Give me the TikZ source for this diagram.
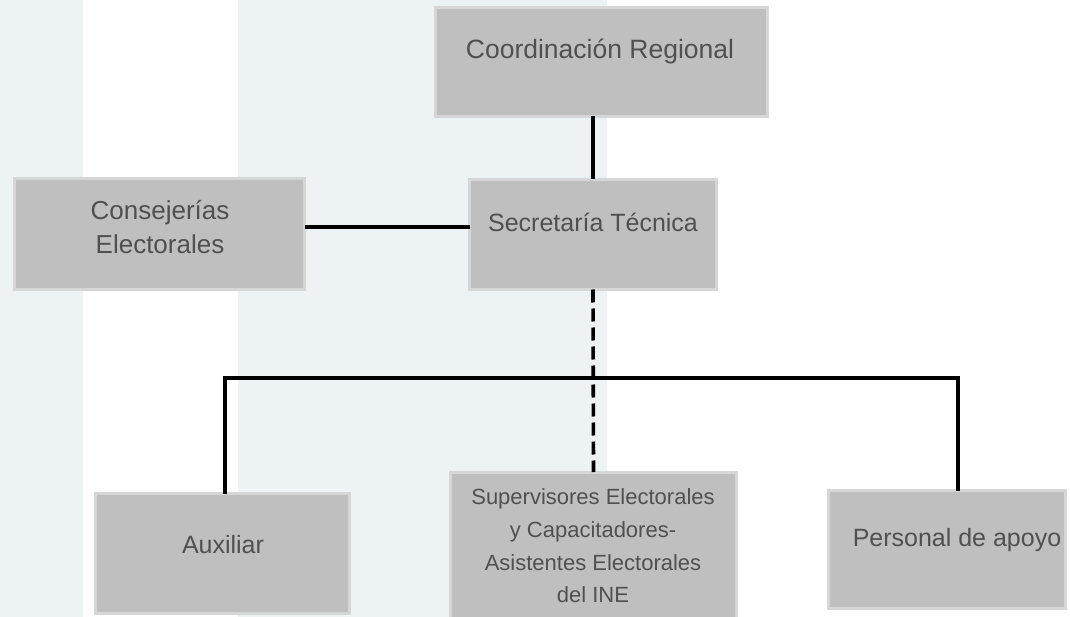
\documentclass[tikz,border=0pt]{standalone}
\usepackage{fontspec}
\setmainfont{Liberation Sans}
\definecolor{stripe}{RGB}{237,242,245}
\definecolor{boxfill}{RGB}{191,191,191}
\definecolor{boxedge}{RGB}{214,214,214}
\definecolor{txt}{RGB}{80,80,80}
\tikzset{
  orgbox/.style={draw=boxedge, line width=3pt, fill=boxfill, inner sep=0pt, outer sep=0pt},
  lbl/.style={text=txt, font=\fontsize{25}{34}\selectfont, inner sep=0pt, align=center},
  biglbl/.style={text=txt, font=\fontsize{26.5}{34}\selectfont, inner sep=0pt, align=center},
  conslbl/.style={text=txt, font=\fontsize{26}{34}\selectfont, inner sep=0pt, align=center},
  smalllbl/.style={text=txt, font=\fontsize{22}{32.7}\selectfont, inner sep=0pt, align=center},
  conn/.style={line width=3.6pt, black},
  dashconn/.style={line width=3.6pt, black, dash pattern=on 13pt off 6pt}
}
\begin{document}
\begin{tikzpicture}[x=1pt,y=-1pt]
\clip (0,0) rectangle (1070,617);
\fill[white] (0,0) rectangle (1070,617);
\fill[stripe] (0,0) rectangle (83,617);
\fill[stripe] (238,0) rectangle (607,617);

% boxes
\node[orgbox, minimum width=332pt, minimum height=109pt] (coord) at (601.5,62) {};
\node[orgbox, minimum width=290pt, minimum height=111pt] (cons) at (159.5,234) {};
\node[orgbox, minimum width=247pt, minimum height=110pt] (sec) at (593,234.5) {};
\node[orgbox, minimum width=286pt, minimum height=170pt] (sup) at (593.5,557) {};
\node[orgbox, minimum width=254pt, minimum height=120pt] (aux) at (222.5,553.5) {};
\node[orgbox, minimum width=237pt, minimum height=118pt] (pers) at (947,549.5) {};

% labels
\node[biglbl, anchor=base] (coordL) at (600,59) {Coordinación Regional};
\node[lbl, anchor=base] (secL) at (593,232) {Secretaría Técnica};
\node[conslbl, anchor=center] (consL) at (160,227) {Consejerías\\Electorales};
\node[lbl, anchor=base] (auxL) at (223,553) {Auxiliar};
\node[lbl, anchor=base] (persL) at (957,546) {Personal de apoyo};
\node[smalllbl, anchor=center] (supL) at (593,546) {Supervisores Electorales\\y Capacitadores-\\Asistentes Electorales\\del INE};

% connectors
\coordinate (busL) at (225,378);
\coordinate (busR) at (958,378);
\draw[conn] (coord.south -| sec.north) -- (sec.north);
\draw[conn] ([yshift=7pt]cons.east) -- ([yshift=7pt]cons.east -| sec.west);
\draw[dashconn] (sec.south) -- (sup.north);
\draw[conn] (aux.north -| busL) -- (busL) -- (busR) -- (pers.north -| busR);
\end{tikzpicture}
\end{document}
